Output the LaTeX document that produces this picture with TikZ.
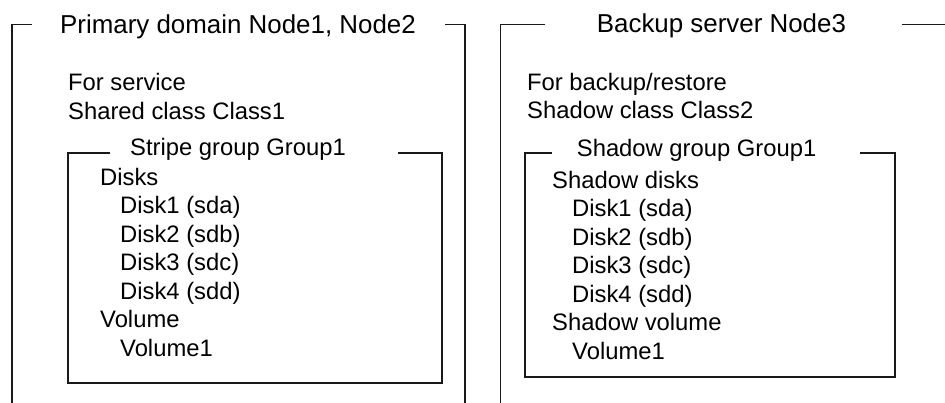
\documentclass[tikz,border=0pt]{standalone}
\usepackage{fontspec}
\setmainfont{Liberation Sans}
\begin{document}
\begin{tikzpicture}[x=1pt,y=-1pt,
  frame/.style={line width=1.8pt, black!90},
  body/.style={anchor=base west, inner sep=0pt, font=\fontsize{23.8}{28}\selectfont},
  ttl/.style={anchor=base west, inner sep=0pt, font=\fontsize{25.9}{30}\selectfont}]
\useasboundingbox (0,0) rectangle (945,402);
% outer frame: primary domain
\draw[frame] (32,24.5) -- (12,24.5) -- (12,404);
\draw[frame] (445,24.5) -- (465,24.5) -- (465,404);
\node[ttl] (ptitle) at (60,33.3) {Primary domain Node1, Node2};
% outer frame: backup server
\draw[frame] (545,24.5) -- (500.5,24.5) -- (500.5,404);
\draw[frame] (902,24.5) -- (947,24.5);
\node[ttl] (btitle) at (596.7,32.5) {Backup server Node3};
% left texts
\node[body] (ls1) at (68,90.7) {For service};
\node[body] (ls2) at (68,119.3) {Shared class Class1};
\draw[frame] (110,153.3) -- (68.3,153.3) -- (68.3,383.3) -- (441.7,383.3) -- (441.7,153.3) -- (398,153.3);
\node[body] (sgt) at (130,155.8) {Stripe group Group1};
\node[body] (l1) at (100,185) {Disks};
\node[body] (l2) at (120,213.5) {Disk1 (sda)};
\node[body] (l3) at (120,242) {Disk2 (sdb)};
\node[body] (l4) at (120,270.5) {Disk3 (sdc)};
\node[body] (l5) at (120,299.2) {Disk4 (sdd)};
\node[body] (l6) at (100,327.8) {Volume};
\node[body] (l7) at (120,356.4) {Volume1};
% right texts
\node[body] (rs1) at (527,90.7) {For backup/restore};
\node[body] (rs2) at (527,118.5) {Shadow class Class2};
\draw[frame] (552,153.3) -- (525,153.3) -- (525,377.3) -- (895,377.3) -- (895,153.3) -- (860,153.3);
\node[body] (shgt) at (576.7,156) {Shadow group Group1};
\node[body] (r1) at (552,188.3) {Shadow disks};
\node[body] (r2) at (572,216.7) {Disk1 (sda)};
\node[body] (r3) at (572,245.2) {Disk2 (sdb)};
\node[body] (r4) at (572,273.7) {Disk3 (sdc)};
\node[body] (r5) at (572,302.2) {Disk4 (sdd)};
\node[body] (r6) at (552,330.6) {Shadow volume};
\node[body] (r7) at (572,359) {Volume1};
\end{tikzpicture}
\end{document}
